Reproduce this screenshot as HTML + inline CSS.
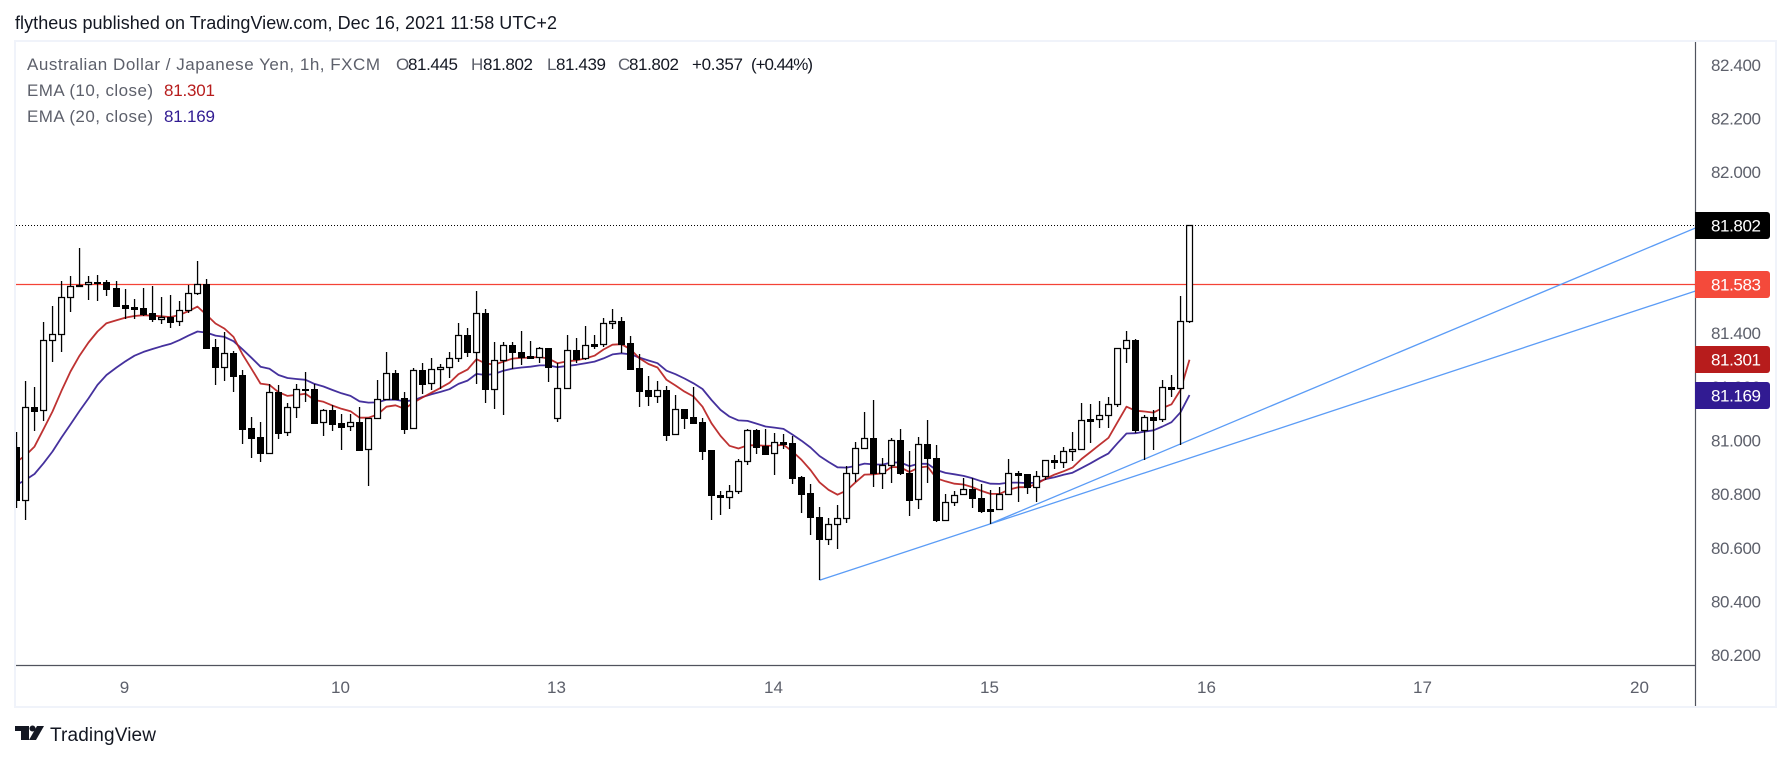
<!DOCTYPE html>
<html lang="en">
<head>
<meta charset="utf-8">
<title>AUD/JPY 1h chart</title>
<style>
html,body{margin:0;padding:0;background:#fff;width:1791px;height:760px;overflow:hidden}
svg{display:block}
text{font-family:"Liberation Sans",sans-serif}
</style>
</head>
<body>
<svg id="chart" xmlns="http://www.w3.org/2000/svg" width="1791" height="760" viewBox="0 0 1791 760">
  <defs><clipPath id="plot-clip"><rect x="16" y="42" width="1679" height="623"/></clipPath></defs>
  <rect x="0" y="0" width="1791" height="760" fill="#ffffff"/>
  <text x="15" y="29" font-size="18" fill="#131722" textLength="542" lengthAdjust="spacing">flytheus published on TradingView.com, Dec 16, 2021 11:58 UTC+2</text>
  <rect x="15" y="41" width="1761" height="666" fill="none" stroke="#f0f3fa" stroke-width="2"/>

  <g id="price-ticks"></g>
  <g id="time-ticks"></g>

  <g clip-path="url(#plot-clip)">
    <g id="levels"></g>
    <g id="trendlines"></g>
    <g id="emas"></g>
    <g id="candles"></g>
  </g>

  <line x1="1695.5" y1="42" x2="1695.5" y2="706" stroke="#50535e" stroke-width="1.2"/>
  <line x1="16" y1="665.5" x2="1695" y2="665.5" stroke="#50535e" stroke-width="1.2"/>

  <g id="price-labels"></g>

  <g font-size="17">
    <text x="27" y="70" fill="#5d606b" textLength="353" lengthAdjust="spacing">Australian Dollar / Japanese Yen, 1h, FXCM</text>
    <text x="396" y="70" fill="#5d606b">O</text>
    <text x="408" y="70" fill="#131722" textLength="50" lengthAdjust="spacing">81.445</text>
    <text x="471" y="70" fill="#5d606b">H</text>
    <text x="483" y="70" fill="#131722" textLength="50" lengthAdjust="spacing">81.802</text>
    <text x="547" y="70" fill="#5d606b">L</text>
    <text x="556" y="70" fill="#131722" textLength="50" lengthAdjust="spacing">81.439</text>
    <text x="618" y="70" fill="#5d606b">C</text>
    <text x="629" y="70" fill="#131722" textLength="50" lengthAdjust="spacing">81.802</text>
    <text x="692" y="70" fill="#131722" textLength="51" lengthAdjust="spacing">+0.357</text>
    <text x="751" y="70" fill="#131722" textLength="62" lengthAdjust="spacing">(+0.44%)</text>
    <text x="27" y="96" fill="#5d606b" textLength="126" lengthAdjust="spacing">EMA (10, close)</text>
    <text x="164" y="96" fill="#b71c1c" textLength="51" lengthAdjust="spacing">81.301</text>
    <text x="27" y="122" fill="#5d606b" textLength="126" lengthAdjust="spacing">EMA (20, close)</text>
    <text x="164" y="122" fill="#311b92" textLength="51" lengthAdjust="spacing">81.169</text>
  </g>

  <g>
    <polygon points="15,726 29,726 29,740 21,740 21,731 15,731" fill="#131722"/>
    <circle cx="32.5" cy="728.5" r="3" fill="#131722"/>
    <polygon points="37,726 44,726 36,740 29,740" fill="#131722"/>
    <text x="50" y="741" font-size="19" fill="#131722" textLength="106" lengthAdjust="spacing">TradingView</text>
  </g>
</svg>
<script>
var opens = [80.976,80.780,81.125,81.113,81.374,81.396,81.534,81.575,81.582,81.591,81.590,81.569,81.505,81.498,81.494,81.475,81.452,81.462,81.444,81.485,81.549,81.582,81.349,81.275,81.326,81.244,81.047,81.013,80.955,81.181,81.031,81.124,81.192,81.192,81.068,81.114,81.065,81.053,81.068,80.967,81.083,81.154,81.251,81.157,81.046,81.262,81.213,81.265,81.275,81.306,81.392,81.329,81.474,81.193,81.299,81.355,81.329,81.314,81.310,81.344,81.083,81.195,81.336,81.306,81.359,81.359,81.437,81.444,81.362,81.269,81.187,81.167,81.187,81.023,81.116,81.088,81.068,80.964,80.796,80.789,80.810,80.923,81.038,80.980,80.952,80.993,80.991,80.864,80.805,80.715,80.632,80.688,80.710,80.878,80.971,81.008,80.878,80.908,81.001,80.879,80.781,80.986,80.934,80.703,80.770,80.800,80.818,80.785,80.744,80.744,80.800,80.878,80.874,80.826,80.869,80.926,80.919,80.960,80.967,81.079,81.079,81.094,81.135,81.344,81.374,81.038,81.087,81.079,81.198,81.195,81.445];
var closes = [80.780,81.124,81.111,81.374,81.396,81.534,81.575,81.581,81.590,81.588,81.566,81.501,81.495,81.491,81.473,81.451,81.459,81.443,81.485,81.549,81.582,81.346,81.275,81.325,81.242,81.044,81.011,80.955,81.180,81.029,81.124,81.191,81.190,81.067,81.113,81.063,81.052,81.068,80.966,81.083,81.154,81.251,81.154,81.044,81.262,81.212,81.265,81.275,81.306,81.392,81.328,81.474,81.193,81.299,81.355,81.328,81.311,81.308,81.344,81.272,81.195,81.336,81.305,81.355,81.352,81.437,81.444,81.361,81.268,81.186,81.167,81.187,81.022,81.116,81.085,81.067,80.962,80.795,80.789,80.810,80.923,81.038,80.977,80.951,80.993,80.988,80.862,80.802,80.713,80.631,80.687,80.710,80.878,80.971,81.008,80.877,80.907,81.001,80.877,80.780,80.986,80.933,80.702,80.770,80.798,80.818,80.784,80.739,80.739,80.800,80.878,80.873,80.825,80.869,80.926,80.918,80.960,80.967,81.075,81.074,81.094,81.135,81.344,81.374,81.038,81.087,81.078,81.198,81.193,81.444,81.802];
var highs = [81.032,81.222,81.201,81.442,81.501,81.595,81.613,81.718,81.613,81.617,81.598,81.595,81.565,81.528,81.569,81.576,81.535,81.542,81.520,81.580,81.669,81.602,81.378,81.403,81.333,81.263,81.088,81.069,81.211,81.207,81.139,81.211,81.256,81.210,81.116,81.131,81.099,81.099,81.125,81.083,81.226,81.330,81.262,81.181,81.269,81.289,81.308,81.285,81.330,81.438,81.419,81.557,81.490,81.367,81.367,81.367,81.408,81.371,81.347,81.345,81.290,81.393,81.382,81.427,81.393,81.457,81.490,81.460,81.390,81.323,81.241,81.222,81.203,81.170,81.116,81.200,81.083,80.964,80.812,80.833,80.931,81.042,81.042,81.043,81.027,81.025,81.017,80.867,80.838,80.753,80.712,80.760,80.904,80.993,81.106,81.151,80.935,81.008,81.043,80.961,81.013,81.077,80.984,80.801,80.811,80.861,80.859,80.838,80.816,80.827,80.931,80.885,80.875,80.887,80.926,80.945,80.975,81.032,81.140,81.136,81.147,81.162,81.344,81.408,81.378,81.094,81.113,81.226,81.244,81.539,81.802];
var lows = [80.750,80.704,81.037,81.074,81.294,81.328,81.477,81.574,81.524,81.520,81.539,81.501,81.451,81.454,81.464,81.443,81.434,81.421,81.428,81.475,81.544,81.342,81.208,81.223,81.182,80.988,80.936,80.921,80.955,81.007,81.015,81.085,81.145,81.064,81.015,81.037,80.966,81.036,80.962,80.832,81.083,81.154,81.151,81.026,81.046,81.174,81.188,81.192,81.232,81.293,81.311,81.211,81.140,81.118,81.095,81.267,81.282,81.304,81.288,81.218,81.069,81.195,81.289,81.300,81.341,81.349,81.416,81.325,81.267,81.126,81.130,81.140,80.998,81.023,81.043,81.067,80.929,80.705,80.724,80.745,80.802,80.907,80.951,80.951,80.873,80.970,80.839,80.731,80.649,80.479,80.612,80.594,80.694,80.844,80.971,80.825,80.821,80.843,80.873,80.720,80.743,80.843,80.698,80.703,80.757,80.800,80.750,80.728,80.690,80.744,80.800,80.772,80.801,80.772,80.851,80.895,80.898,80.925,80.967,80.992,81.048,81.048,81.125,81.287,81.027,80.929,80.965,81.069,81.162,80.985,81.439];
var ema10 = [80.921,80.944,80.977,81.042,81.108,81.185,81.257,81.316,81.365,81.406,81.437,81.448,81.458,81.464,81.467,81.465,81.463,81.460,81.468,81.482,81.499,81.468,81.436,81.417,81.386,81.321,81.267,81.212,81.207,81.180,81.166,81.170,81.174,81.151,81.144,81.130,81.118,81.109,81.085,81.085,81.097,81.126,81.131,81.118,81.141,81.160,81.178,81.196,81.215,81.247,81.264,81.303,81.287,81.283,81.294,81.305,81.308,81.309,81.311,81.305,81.288,81.295,81.299,81.306,81.316,81.339,81.357,81.359,81.340,81.306,81.285,81.272,81.226,81.205,81.182,81.164,81.126,81.064,81.017,80.980,80.970,80.982,80.982,80.980,80.981,80.984,80.959,80.928,80.890,80.844,80.816,80.798,80.813,80.844,80.873,80.874,80.878,80.901,80.900,80.882,80.899,80.903,80.859,80.848,80.839,80.836,80.826,80.812,80.801,80.801,80.816,80.826,80.826,80.838,80.857,80.873,80.885,80.899,80.931,80.957,80.984,81.010,81.068,81.126,81.111,81.108,81.104,81.121,81.135,81.188,81.301];
var ema20 = [80.834,80.853,80.875,80.915,80.959,81.011,81.060,81.110,81.157,81.207,81.244,81.272,81.295,81.316,81.330,81.341,81.351,81.360,81.374,81.391,81.406,81.402,81.391,81.386,81.370,81.340,81.308,81.275,81.267,81.244,81.233,81.229,81.226,81.211,81.201,81.188,81.176,81.166,81.146,81.141,81.142,81.152,81.152,81.146,81.150,81.162,81.172,81.181,81.191,81.211,81.223,81.248,81.244,81.248,81.260,81.268,81.272,81.275,81.280,81.280,81.273,81.278,81.282,81.288,81.294,81.306,81.321,81.325,81.321,81.309,81.298,81.288,81.260,81.247,81.231,81.213,81.192,81.151,81.114,81.089,81.075,81.073,81.063,81.052,81.048,81.043,81.022,80.999,80.974,80.942,80.920,80.900,80.899,80.905,80.914,80.911,80.910,80.918,80.918,80.904,80.913,80.913,80.890,80.879,80.874,80.868,80.859,80.848,80.839,80.838,80.843,80.843,80.841,80.843,80.856,80.863,80.872,80.880,80.897,80.915,80.934,80.952,80.990,81.026,81.027,81.033,81.038,81.052,81.068,81.105,81.169];
var priceTicks = ["82.400","82.200","82.000","81.800","81.600","81.400","81.200","81.000","80.800","80.600","80.400","80.200"];
var dayLabels = ["9","10","13","14","15","16","17","20"];
var dayIndexes = [12,36,60,84,108,132,156,180];
var lastPrice = 81.802;
var resistance = 81.583;
var trendStartIndex = [89,108];
var trendStartPrice = [80.479,80.690];
var trendEndIndex = [186.1,186.1];
var trendEndPrice = [81.557,81.792];
var labelValues = ["81.802","81.583","81.301","81.169"];
var labelColors = ["#000000","#f44a3b","#b71c1c","#311b92"];

var NS = 'http://www.w3.org/2000/svg';
function yAt(p){ return 225.3 + (81.802 - p) * 268.3; }
function xFloat(i){ return 16.8 + 9.02 * i; }
function col(i){ return Math.floor(xFloat(i)); }
function mk(tag, parent, attrs){
  var el = document.createElementNS(NS, tag);
  for (var k in attrs) el.setAttribute(k, attrs[k]);
  parent.appendChild(el);
  return el;
}

var tickGroup = document.getElementById('price-ticks');
priceTicks.forEach(function(t){
  var el = mk('text', tickGroup, {x:1711, y:(yAt(parseFloat(t)) + 6).toFixed(1), 'font-size':17, fill:'#5d606b', textLength:50, lengthAdjust:'spacing'});
  
  
  el.textContent = t;
});

var timeGroup = document.getElementById('time-ticks');
dayLabels.forEach(function(t, n){
  var el = mk('text', timeGroup, {x:col(dayIndexes[n]) - 0.5, y:693, 'font-size':17, fill:'#5d606b', 'text-anchor':'middle'});
  
  
  el.textContent = t;
});

var levels = document.getElementById('levels');
var dotted = mk('line', levels, {x1:16, x2:1695, y1:Math.floor(yAt(lastPrice)) + 0.5, y2:Math.floor(yAt(lastPrice)) + 0.5, stroke:'#000000', 'stroke-width':1, 'stroke-dasharray':'1 2'});


var redLevel = mk('line', levels, {x1:16, x2:1695, y1:Math.floor(yAt(resistance)) + 0.5, y2:Math.floor(yAt(resistance)) + 0.5, stroke:'#f44336', 'stroke-width':1.2});



var trendGroup = document.getElementById('trendlines');
trendStartIndex.forEach(function(s, n){
  var el = mk('line', trendGroup, {x1:col(s) + 0.5, y1:yAt(trendStartPrice[n]).toFixed(1), x2:xFloat(trendEndIndex[n]).toFixed(1), y2:yAt(trendEndPrice[n]).toFixed(1), stroke:'#5b9cf6', 'stroke-width':1.3});
  
  
});

function drawEma(values, color, name){
  var pts = values.map(function(v, i){ return (col(i) + 0.5) + ',' + yAt(v).toFixed(1); }).join(' ');
  var el = mk('polyline', document.getElementById('emas'), {points:pts, fill:'none', stroke:color, 'stroke-width':1.8, 'stroke-linejoin':'round', 'stroke-opacity':0.9});
  
  
}
drawEma(ema20, '#311b92', 'ema-20-line');
drawEma(ema10, '#b71c1c', 'ema-10-line');

var candleGroup = document.getElementById('candles');
opens.forEach(function(o, i){
  var c = closes[i], cx = col(i);
  var g = mk('g', candleGroup, {});
  
  
  var yH = Math.round(yAt(highs[i])), yL = Math.round(yAt(lows[i]));
  var wick = mk('rect', g, {x:cx - 0.1, y:yH, width:1.3, height:Math.max(1, yL - yH), fill:'#000000'});
  
  
  var top = Math.round(yAt(Math.max(o, c))), bot = Math.round(yAt(Math.min(o, c)));
  var body;
  if (c >= o) {
    body = mk('rect', g, {x:cx - 2.4, y:top + 0.5, width:5.9, height:Math.max(1, bot - top), fill:'#ffffff', stroke:'#000000', 'stroke-width':1.25});
  } else {
    body = mk('rect', g, {x:cx - 3, y:top, width:7, height:Math.max(2, bot - top + 1), fill:'#000000'});
  }
  
  
});

var labelGroup = document.getElementById('price-labels');
labelValues.forEach(function(v, n){
  var cy = yAt(parseFloat(v));
  var top = Math.round(cy - 13.5);
  var box = mk('path', labelGroup, {d:'M1695 ' + top + 'H1767a3 3 0 0 1 3 3V' + (top + 24) + 'a3 3 0 0 1 -3 3H1695Z', fill:labelColors[n]});
  
  
  var t = mk('text', labelGroup, {x:1711, y:(top + 19.5).toFixed(1), 'font-size':17, fill:'#ffffff', textLength:50, lengthAdjust:'spacing'});
  
  
  t.textContent = v;
});
</script>
</body>
</html>
